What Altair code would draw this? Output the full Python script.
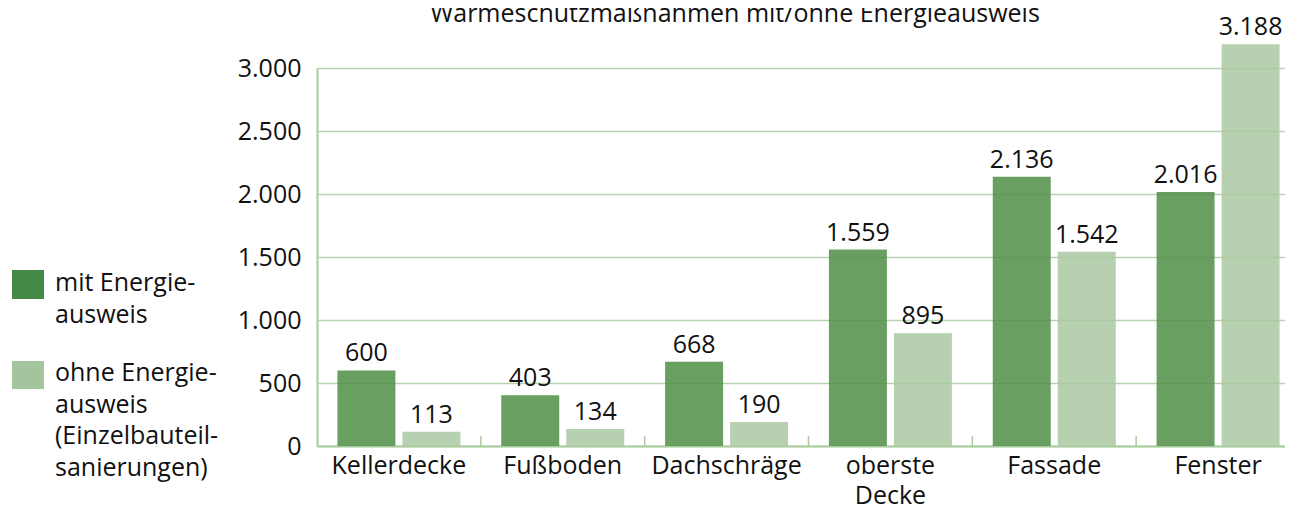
import altair as alt
import pandas as pd

categories = ["Kellerdecke", "Fußboden", "Dachschräge", "oberste\nDecke", "Fassade", "Fenster"]
mit = [600, 403, 668, 1559, 2136, 2016]
ohne = [113, 134, 190, 895, 1542, 3188]
series = ["mit Energieausweis", "ohne Energieausweis (Einzelbauteilsanierungen)"]
legend_labels = ["mit Energie-\nausweis", "ohne Energie-\nausweis\n(Einzelbauteil-\nsanierungen)"]
y_ticks = [0, 500, 1000, 1500, 2000, 2500, 3000]
title_text = "Wärmeschutzmaßnahmen mit/ohne Energieausweis"

FONT = "Open Sans"
FS = 25
bar_colors = ["#508e46", "#aac8a1"]
legend_colors = ["#448a46", "#a3c49c"]
GRID = "#b6d3ad"

rows = []
for c, m, o in zip(categories, mit, ohne):
    rows.append({"cat": c, "series": series[0], "value": m})
    rows.append({"cat": c, "series": series[1], "value": o})
df = pd.DataFrame(rows)

fmt = "replace(format(datum.value, ','), ',', '.')"

x_enc = alt.X(
    "cat:N", sort=categories,
    scale=alt.Scale(range=[0, 983], paddingInner=0, paddingOuter=0),
    axis=alt.Axis(title=None, ticks=False, labelAngle=0, labelPadding=7,
                  labelFontSize=FS, labelFont=FONT, labelColor="#111",
                  labelExpr="split(datum.label, '\\n')", labelLineHeight=30,
                  domainColor="#a9cba0", domainWidth=2, grid=False),
)
xoff_enc = alt.XOffset("series:N", sort=series,
                       scale=alt.Scale(paddingInner=0.108, paddingOuter=0.314))
y_enc = alt.Y(
    "value:Q",
    scale=alt.Scale(domain=[0, 3000], nice=False),
    axis=alt.Axis(title=None, values=y_ticks, labelExpr=fmt, ticks=False,
                  labelPadding=16, labelFontSize=FS, labelFont=FONT, labelColor="#111",
                  domainColor="#a9cba0", domainWidth=2, gridColor=GRID, gridWidth=1.5),
)
color_enc = alt.Color("series:N", scale=alt.Scale(domain=series, range=bar_colors), legend=None)

bars = alt.Chart(df).mark_bar(fillOpacity=0.85).encode(
    x=x_enc, xOffset=xoff_enc, y=y_enc, color=color_enc
)

labels = alt.Chart(df).transform_calculate(label=fmt).mark_text(
    fontSize=FS, font=FONT, color="#111", baseline="alphabetic", dy=-9
).encode(x=x_enc, xOffset=xoff_enc, y=y_enc, text="label:N")

ticks = alt.Chart(pd.DataFrame({"cat": categories[1:]})).mark_rule(
    color="#a9cba0", strokeWidth=1.5
).encode(
    x=alt.X("cat:N", sort=categories, bandPosition=0),
    y=alt.value(378), y2=alt.value(368),
)

title = alt.Chart(pd.DataFrame({"t": [title_text]})).mark_text(
    fontSize=FS, font=FONT, color="#111", align="center", baseline="alphabetic"
).encode(x=alt.value(418), y=alt.value(-46), text="t:N")

leg1_sq = alt.Chart(pd.DataFrame({"s": [series[0]]})).mark_rect(color=legend_colors[0]).encode(
    x=alt.value(-305), x2=alt.value(-273), y=alt.value(202), y2=alt.value(231))
leg2_sq = alt.Chart(pd.DataFrame({"s": [series[1]]})).mark_rect(color=legend_colors[1]).encode(
    x=alt.value(-305), x2=alt.value(-273), y=alt.value(293), y2=alt.value(321))
leg1_tx = alt.Chart(pd.DataFrame({"t": [legend_labels[0]]})).mark_text(
    fontSize=FS, font=FONT, color="#111", align="left", baseline="alphabetic",
    lineBreak="\n", lineHeight=31.5
).encode(x=alt.value(-262), y=alt.value(223), text="t:N")
leg2_tx = alt.Chart(pd.DataFrame({"t": [legend_labels[1]]})).mark_text(
    fontSize=FS, font=FONT, color="#111", align="left", baseline="alphabetic",
    lineBreak="\n", lineHeight=31.5
).encode(x=alt.value(-262), y=alt.value(313), text="t:N")

chart = alt.layer(bars, ticks, labels, title, leg1_sq, leg2_sq, leg1_tx, leg2_tx).properties(
    width=968, height=378,
    padding={"left": 309, "top": 60, "right": 0, "bottom": 63},
    autosize=alt.AutoSizeParams(type="none"),
    background="white",
).configure_view(stroke=None)

chart.save("out.html", embed_options={"renderer": "svg", "actions": False})
